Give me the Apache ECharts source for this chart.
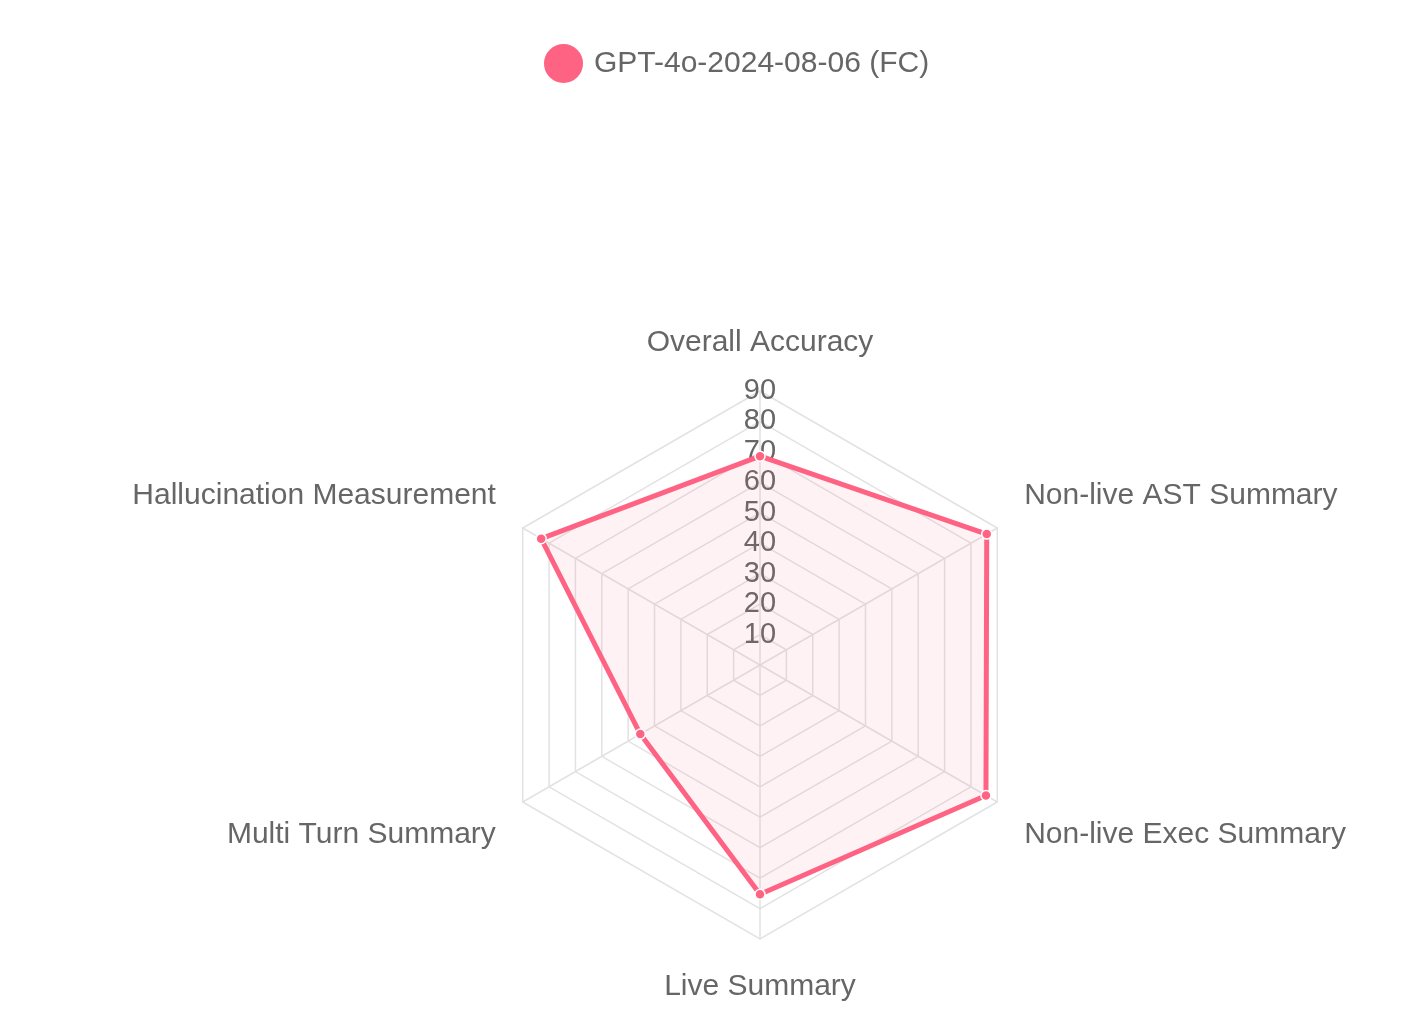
<!DOCTYPE html>
<html>
<head>
<meta charset="utf-8">
<script src="https://cdn.jsdelivr.net/npm/echarts@6/dist/echarts.min.js"></script>
<style>
  html, body { margin: 0; padding: 0; background: #fff; }
  #radar_map { width: 1428px; height: 1036px; }
</style>
</head>
<body>
<div id="radar_map"></div>
<script>
    /*各维度名称（顺时针顺序）*/
    const categories = ['Overall Accuracy', 'Non-live AST Summary', 'Non-live Exec Summary',
        'Live Summary', 'Multi Turn Summary', 'Hallucination Measurement'];
    /*模型得分*/
    const seriesName = 'GPT-4o-2024-08-06 (FC)';
    const seriesValues = [68.6, 86.0, 85.7, 75.3, 45.4, 83.0];
    /*刻度*/
    const tickMax = 90;
    const tickStep = 10;

    const pink = 'rgb(255, 99, 132)';
    const font = '"Liberation Sans", Arial, Helvetica, sans-serif';

    /*ECharts 雷达图是逆时针排列的，这里把顺序倒过来（第一个保持在顶部）*/
    const order = categories.map((c, i) => (categories.length - i) % categories.length);
    const names = order.map(i => categories[i]);
    const values = order.map(i => seriesValues[i]);
    const n = names.length;

    echarts.init(document.getElementById('radar_map')).setOption({
        animation: false,
        legend: {
            top: 37,
            left: 537,
            icon: 'circle',
            itemWidth: 41,
            itemHeight: 41,
            textStyle: {color: '#666', fontSize: 30, fontFamily: font, padding: [0, 0, 0, 5]},
            data: [seriesName]
        },
        radar: {
            center: [760, 665],
            radius: 274,
            startAngle: 90,
            shape: 'polygon',
            splitNumber: tickMax / tickStep,
            nameGap: 31,
            axisName: {
                color: '#666',
                fontSize: 30,
                lineHeight: 34,
                fontFamily: font,
                // 侧边的标签往外推一点：上半部分往上，下半部分往下
                formatter: (name) => {
                    const k = names.indexOf(name);
                    const ang = Math.PI / 2 + k * 2 * Math.PI / n;
                    const s = Math.sin(ang);
                    if (Math.abs(Math.cos(ang)) < 1e-6) return name;
                    return s > 0 ? name + '\n ' : ' \n' + name;
                }
            },
            splitArea: {show: false},
            splitLine: {lineStyle: {color: '#e2e2e2', width: 1.5}},
            axisLine: {lineStyle: {color: '#e2e2e2', width: 1.5}},
            axisTick: {show: false},
            axisLabel: {show: false},
            // 只在第一个轴上显示刻度，文字居中压在轴线上
            indicator: names.map((name, i) => ({
                name: name,
                min: 0,
                max: tickMax,
                axisLabel: i === 0 ? {
                    show: true,
                    margin: 0,
                    align: 'center',
                    verticalAlign: 'middle',
                    color: '#666',
                    fontSize: 29,
                    fontFamily: font,
                    formatter: (v) => v === 0 ? '' : String(v)
                } : {show: false}
            }))
        },
        series: [{
            name: seriesName,
            type: 'radar',
            symbol: 'circle',
            symbolSize: 10,
            itemStyle: {color: pink, borderColor: '#fff', borderWidth: 1.5},
            lineStyle: {color: pink, width: 5},
            areaStyle: {color: 'rgba(255, 99, 132, 0.12)'},
            data: [{value: values, name: seriesName}]
        }]
    });
</script>
</body>
</html>
